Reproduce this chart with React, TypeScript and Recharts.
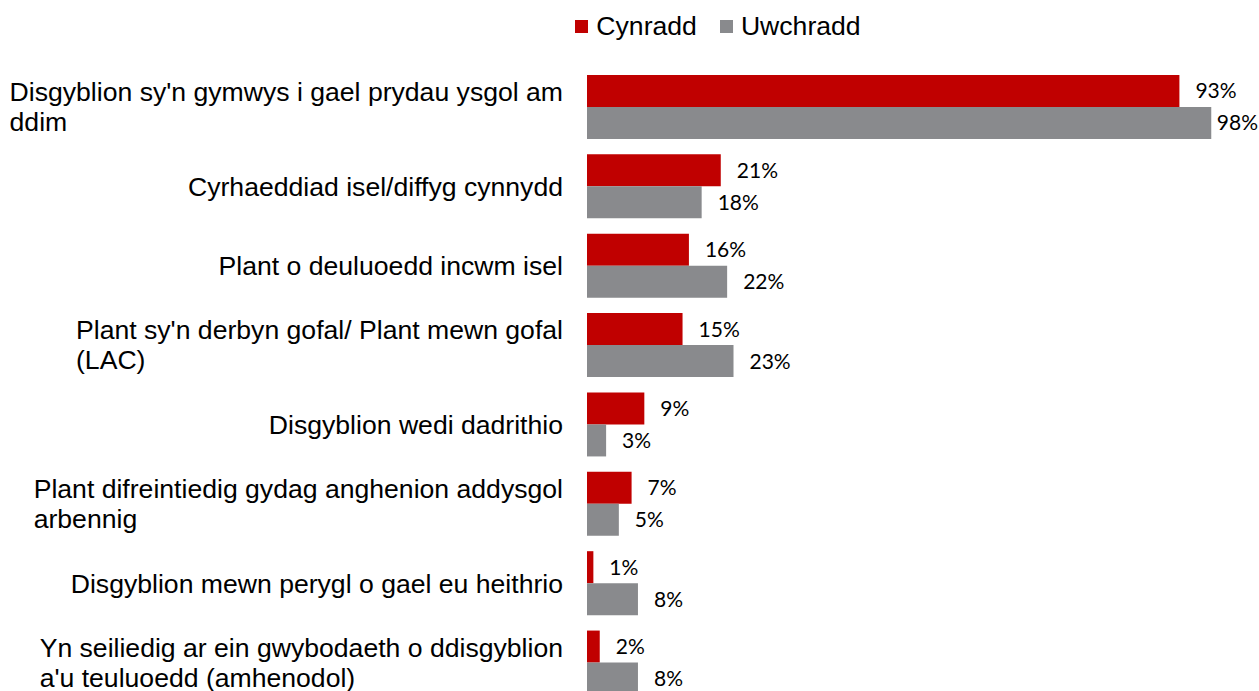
import React from 'react';
import { BarChart, Bar, XAxis, YAxis, Legend, LabelList } from 'recharts';

const categories = [
  "Disgyblion sy'n gymwys i gael prydau ysgol am\nddim",
  'Cyrhaeddiad isel/diffyg cynnydd',
  'Plant o deuluoedd incwm isel',
  "Plant sy'n derbyn gofal/ Plant mewn gofal\n(LAC)",
  'Disgyblion wedi dadrithio',
  'Plant difreintiedig gydag anghenion addysgol\narbennig',
  'Disgyblion mewn perygl o gael eu heithrio',
  "Yn seiliedig ar ein gwybodaeth o ddisgyblion\na'u teuluoedd (amhenodol)",
];
const cynradd = [93, 21, 16, 15, 9, 7, 1, 2];
const uwchradd = [98, 18, 22, 23, 3, 5, 8, 8];
const seriesNames = ['Cynradd', 'Uwchradd'];
const colors = ['#C00000', '#898A8D'];

const data = categories.map((c, i) => ({ name: c, cynradd: cynradd[i], uwchradd: uwchradd[i] }));

const CAT_FONT = "26.6px 'Liberation Sans', Arial, sans-serif";
const LBL_FONT = "21px Lato, 'Open Sans', sans-serif";
let ctx: CanvasRenderingContext2D | null = null;
function measure(t: string, font: string): number {
  if (!ctx) ctx = document.createElement('canvas').getContext('2d');
  if (!ctx) return t.length * 13;
  ctx.font = font;
  return ctx.measureText(t).width;
}

const CatTick = (props: any) => {
  const { x, y, payload } = props;
  const lines: string[] = String(payload.value).split('\n');
  const right = x - 16;
  const maxW = Math.max(...lines.map((l) => measure(l, CAT_FONT)));
  const lh = 30;
  const startY = y - ((lines.length - 1) * lh) / 2;
  return (
    <g>
      {lines.map((l, i) => (
        <text
          key={i}
          x={right - maxW}
          y={startY + i * lh}
          dy="0.36em"
          textAnchor="start"
          fill="#000"
          style={{ font: CAT_FONT }}
        >
          {l}
        </text>
      ))}
    </g>
  );
};

const ValueLabel = (props: any) => {
  const { x, y, width, height, value } = props;
  const txt = `${value}%`;
  const w = measure(txt, LBL_FONT);
  let lx = x + width + 16;
  if (lx + w > 1258) lx = 1258 - w;
  return (
    <text x={lx} y={y + height / 2} dy="0.36em" textAnchor="start" fill="#000" style={{ font: LBL_FONT }}>
      {txt}
    </text>
  );
};

const LegendContent = () => (
  <div style={{ display: 'flex', justifyContent: 'center', paddingLeft: 177, fontFamily: "'Liberation Sans', Arial, sans-serif", fontSize: 26.6, color: '#000' }}>
    {seriesNames.map((n, i) => (
      <div key={n} style={{ display: 'flex', alignItems: 'center', marginLeft: i ? 23 : 0 }}>
        <span style={{ display: 'inline-block', width: 13, height: 13, background: colors[i], marginRight: 8 }} />
        <span>{n}</span>
      </div>
    ))}
  </div>
);

export default function App() {
  return (
    <div style={{ position: 'absolute', left: 0, top: 0, width: 1259, height: 691, overflow: 'hidden', background: '#fff' }}>
      <BarChart
        width={1259}
        height={720}
        data={data}
        layout="vertical"
        margin={{ top: 35, right: 35, bottom: 18, left: 0 }}
        barCategoryGap="10%"
        barGap={0}
      >
        <XAxis type="number" domain={[0, 100]} hide />
        <YAxis type="category" dataKey="name" width={587} axisLine={false} tickLine={false} tick={<CatTick />} interval={0} />
        <Legend
          verticalAlign="top"
          content={<LegendContent />}
          wrapperStyle={{ position: 'absolute', top: 11, left: 0, width: 1259, height: 32 }}
        />
        <Bar dataKey="cynradd" name="Cynradd" fill={colors[0]} isAnimationActive={false}>
          <LabelList dataKey="cynradd" content={<ValueLabel />} />
        </Bar>
        <Bar dataKey="uwchradd" name="Uwchradd" fill={colors[1]} isAnimationActive={false}>
          <LabelList dataKey="uwchradd" content={<ValueLabel />} />
        </Bar>
      </BarChart>
    </div>
  );
}
